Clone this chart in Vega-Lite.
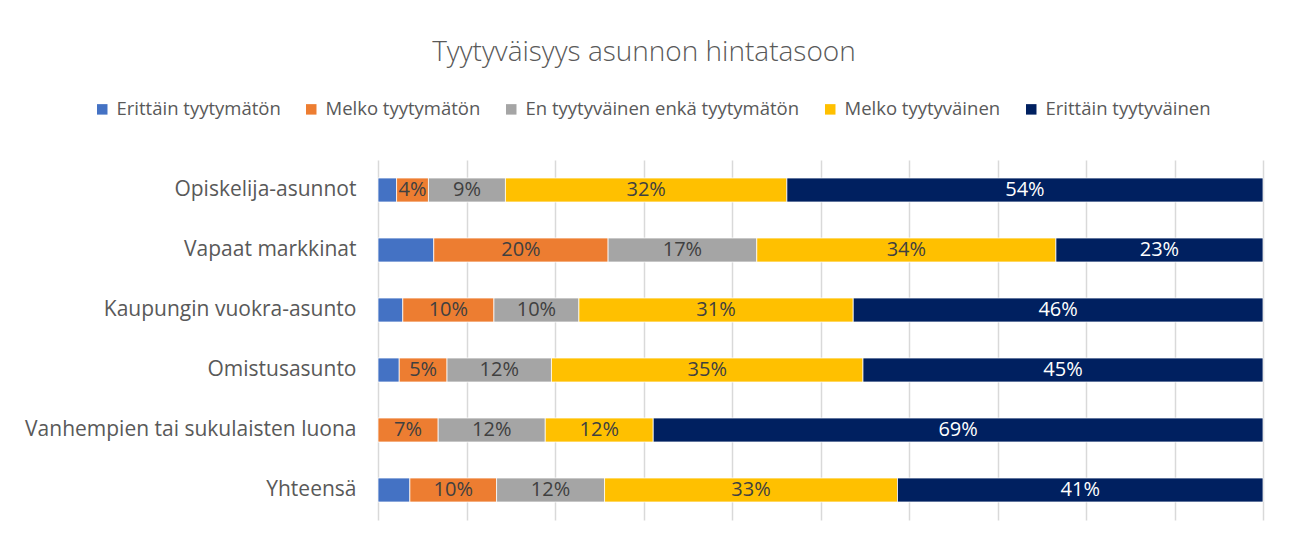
{
  "$schema": "https://vega.github.io/schema/vega-lite/v6.json",
  "autosize": {"type": "none"},
  "width": 885,
  "height": 360,
  "padding": {"left": 378, "top": 160, "right": 30, "bottom": 20},
  "background": "white",
  "config": {"view": {"stroke": null}},
  "title": {
    "text": "Tyytyväisyys asunnon hintatasoon",
    "font": "Open Sans",
    "fontWeight": 300,
    "fontSize": 28,
    "color": "#595959",
    "anchor": "middle",
    "frame": "bounds",
    "offset": 33
  },
  "data": {
    "values": [
      {"category": "Opiskelija-asunnot", "series": "Erittäin tyytymätön", "order": 1, "value": 0.021},
      {"category": "Opiskelija-asunnot", "series": "Melko tyytymätön", "order": 2, "value": 0.036},
      {"category": "Opiskelija-asunnot", "series": "En tyytyväinen enkä tyytymätön", "order": 3, "value": 0.087},
      {"category": "Opiskelija-asunnot", "series": "Melko tyytyväinen", "order": 4, "value": 0.318},
      {"category": "Opiskelija-asunnot", "series": "Erittäin tyytyväinen", "order": 5, "value": 0.538},
      {"category": "Vapaat markkinat", "series": "Erittäin tyytymätön", "order": 1, "value": 0.063},
      {"category": "Vapaat markkinat", "series": "Melko tyytymätön", "order": 2, "value": 0.197},
      {"category": "Vapaat markkinat", "series": "En tyytyväinen enkä tyytymätön", "order": 3, "value": 0.168},
      {"category": "Vapaat markkinat", "series": "Melko tyytyväinen", "order": 4, "value": 0.338},
      {"category": "Vapaat markkinat", "series": "Erittäin tyytyväinen", "order": 5, "value": 0.234},
      {"category": "Kaupungin vuokra-asunto", "series": "Erittäin tyytymätön", "order": 1, "value": 0.028},
      {"category": "Kaupungin vuokra-asunto", "series": "Melko tyytymätön", "order": 2, "value": 0.103},
      {"category": "Kaupungin vuokra-asunto", "series": "En tyytyväinen enkä tyytymätön", "order": 3, "value": 0.096},
      {"category": "Kaupungin vuokra-asunto", "series": "Melko tyytyväinen", "order": 4, "value": 0.310},
      {"category": "Kaupungin vuokra-asunto", "series": "Erittäin tyytyväinen", "order": 5, "value": 0.463},
      {"category": "Omistusasunto", "series": "Erittäin tyytymätön", "order": 1, "value": 0.024},
      {"category": "Omistusasunto", "series": "Melko tyytymätön", "order": 2, "value": 0.054},
      {"category": "Omistusasunto", "series": "En tyytyväinen enkä tyytymätön", "order": 3, "value": 0.118},
      {"category": "Omistusasunto", "series": "Melko tyytyväinen", "order": 4, "value": 0.352},
      {"category": "Omistusasunto", "series": "Erittäin tyytyväinen", "order": 5, "value": 0.452},
      {"category": "Vanhempien tai sukulaisten luona", "series": "Melko tyytymätön", "order": 2, "value": 0.068},
      {"category": "Vanhempien tai sukulaisten luona", "series": "En tyytyväinen enkä tyytymätön", "order": 3, "value": 0.121},
      {"category": "Vanhempien tai sukulaisten luona", "series": "Melko tyytyväinen", "order": 4, "value": 0.122},
      {"category": "Vanhempien tai sukulaisten luona", "series": "Erittäin tyytyväinen", "order": 5, "value": 0.689},
      {"category": "Yhteensä", "series": "Erittäin tyytymätön", "order": 1, "value": 0.036},
      {"category": "Yhteensä", "series": "Melko tyytymätön", "order": 2, "value": 0.098},
      {"category": "Yhteensä", "series": "En tyytyväinen enkä tyytymätön", "order": 3, "value": 0.122},
      {"category": "Yhteensä", "series": "Melko tyytyväinen", "order": 4, "value": 0.331},
      {"category": "Yhteensä", "series": "Erittäin tyytyväinen", "order": 5, "value": 0.413}
    ]
  },
  "transform": [
    {"stack": "value", "groupby": ["category"], "sort": [{"field": "order", "order": "ascending"}], "as": ["x0", "x1"]},
    {"calculate": "(datum.x0 + datum.x1) / 2", "as": "xmid"}
  ],
  "encoding": {
    "y": {
      "field": "category",
      "type": "nominal",
      "sort": ["Opiskelija-asunnot", "Vapaat markkinat", "Kaupungin vuokra-asunto", "Omistusasunto", "Vanhempien tai sukulaisten luona", "Yhteensä"],
      "scale": {"paddingInner": 0.6, "paddingOuter": 0.3},
      "axis": {
        "title": null,
        "domain": false,
        "ticks": false,
        "labelPadding": 22,
        "labelFont": "Open Sans",
        "labelFontSize": 21,
        "labelColor": "#595959",
        "labelLimit": 400
      }
    }
  },
  "layer": [
    {
      "mark": {"type": "bar", "stroke": "white", "strokeWidth": 0.75},
      "encoding": {
        "x": {
          "field": "x0",
          "type": "quantitative",
          "scale": {"domain": [0, 1], "nice": false, "zero": true},
          "axis": {
            "title": null,
            "labels": false,
            "ticks": false,
            "domain": false,
            "grid": true,
            "gridColor": "#d9d9d9",
            "gridWidth": 1.5,
            "values": [0, 0.1, 0.2, 0.3, 0.4, 0.5, 0.6, 0.7, 0.8, 0.9, 1.0]
          }
        },
        "x2": {"field": "x1"},
        "color": {
          "field": "series",
          "type": "nominal",
          "scale": {
            "domain": ["Erittäin tyytymätön", "Melko tyytymätön", "En tyytyväinen enkä tyytymätön", "Melko tyytyväinen", "Erittäin tyytyväinen"],
            "range": ["#4472C4", "#ED7D31", "#A5A5A5", "#FFC000", "#002060"]
          },
          "legend": {
            "title": null,
            "orient": "none",
            "direction": "horizontal",
            "legendX": -285,
            "legendY": -60,
            "padding": 0,
            "symbolType": "square",
            "symbolSize": 110,
            "symbolStrokeWidth": 0,
            "symbolOpacity": 1,
            "labelFont": "Open Sans",
            "labelFontSize": 18.5,
            "labelColor": "#595959",
            "labelOffset": 5,
            "columnPadding": 21,
            "labelLimit": 400
          }
        },
        "order": {"field": "order", "type": "quantitative"}
      }
    },
    {
      "transform": [{"filter": "datum.series !== 'Erittäin tyytymätön'"}],
      "mark": {"type": "text", "align": "center", "baseline": "middle", "font": "Open Sans", "fontSize": 20},
      "encoding": {
        "x": {"field": "xmid", "type": "quantitative"},
        "text": {"field": "value", "type": "quantitative", "format": ".0%"},
        "color": {
          "condition": {"test": "datum.series === 'Erittäin tyytyväinen'", "value": "white"},
          "value": "#404040"
        }
      }
    }
  ]
}
